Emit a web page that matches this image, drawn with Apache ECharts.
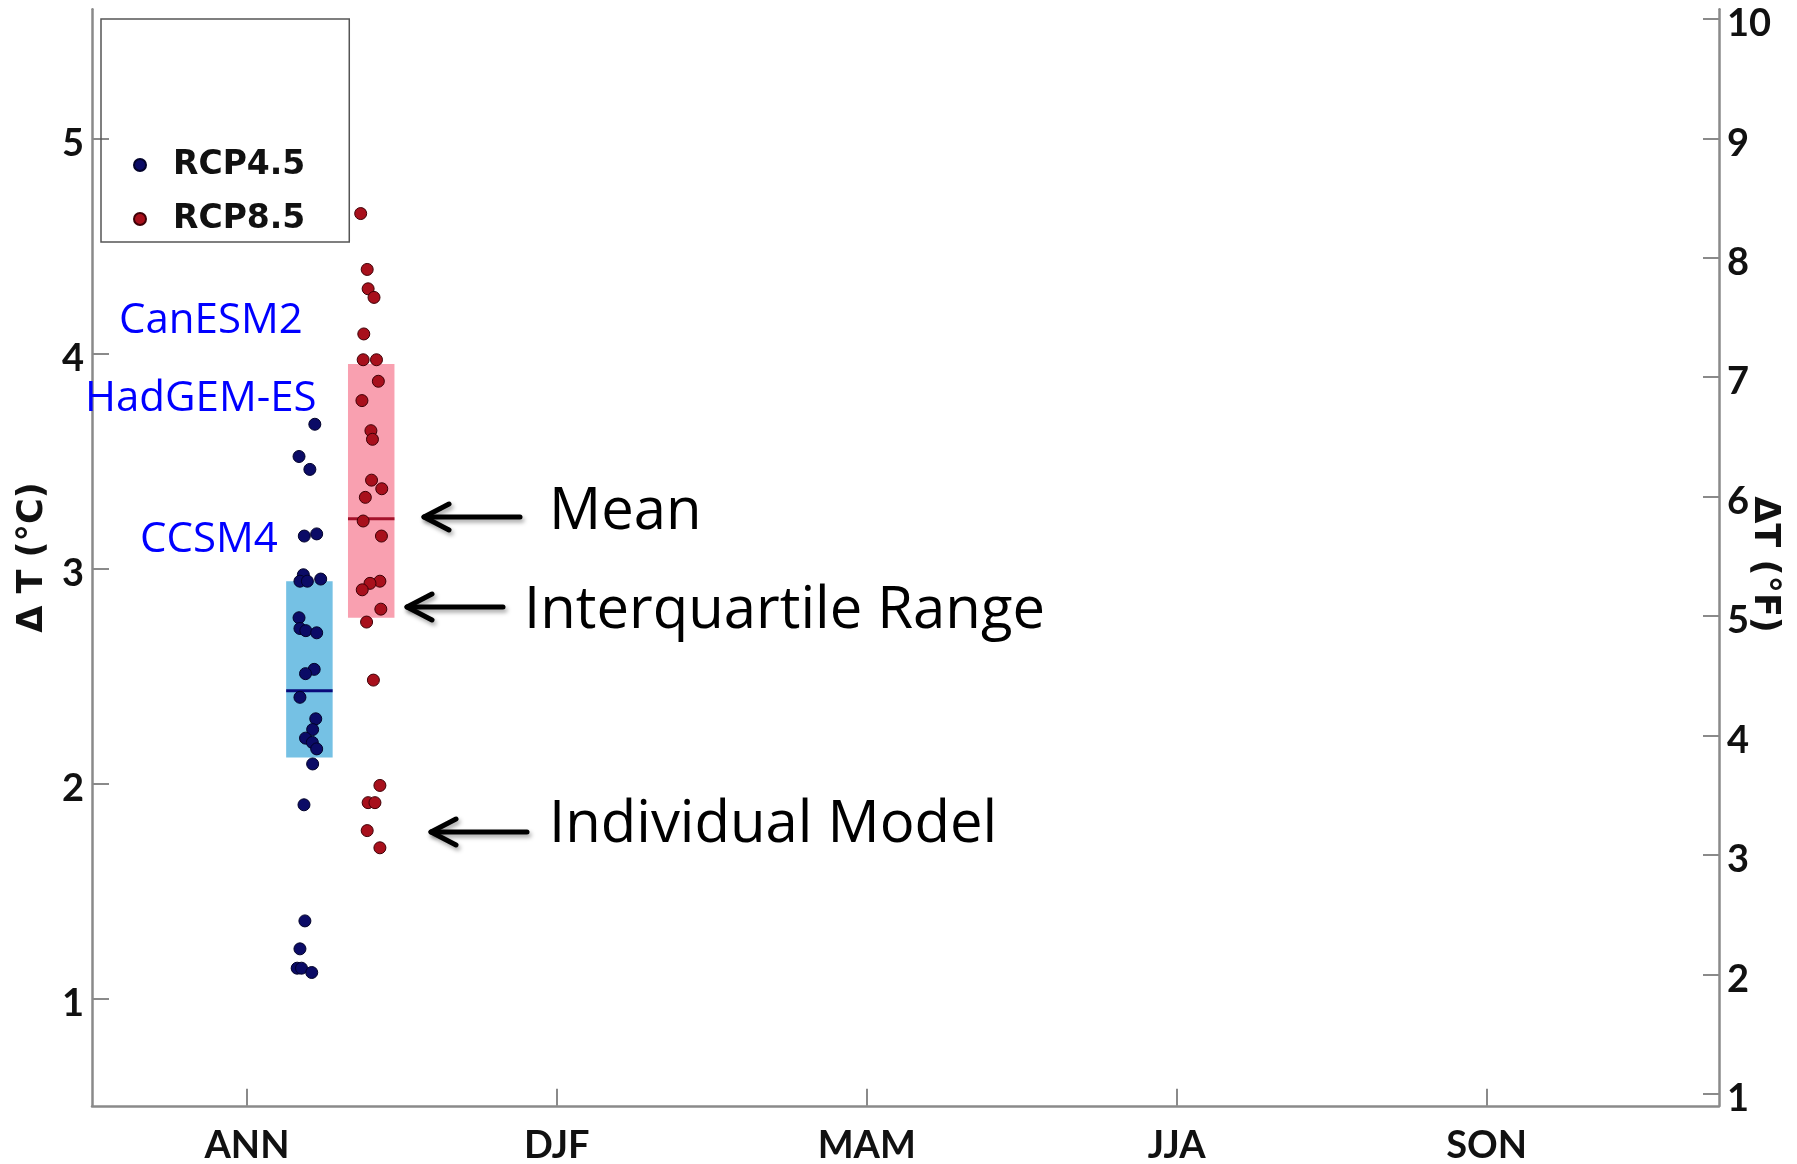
<!DOCTYPE html>
<html>
<head>
<meta charset="utf-8">
<script src="https://cdn.jsdelivr.net/npm/echarts@6/dist/echarts.min.js"></script>
<style>html,body{margin:0;padding:0;background:#fff}#c{width:1797px;height:1164px}</style>
</head>
<body>
<div id="c"></div>
<script>
// ---- data ----
const categories = ['ANN', 'DJF', 'MAM', 'JJA', 'SON'];
const scenarios = ['RCP4.5', 'RCP8.5'];
const leftTicks = [1, 2, 3, 4, 5];            // ΔT (°C)
const rightTicks = [1, 2, 3, 4, 5, 6, 7, 8, 9, 10]; // ΔT (°F)

// individual model ΔT (°C), ANN
const rcp45Values = [3.67, 3.52, 3.46, 3.16, 3.15, 2.97, 2.94, 2.94, 2.95, 2.77, 2.72, 2.71, 2.70, 2.53, 2.51, 2.40, 2.30, 2.25, 2.21, 2.19, 2.16, 2.09, 1.90, 1.36, 1.23, 1.14, 1.14, 1.12];
const rcp45Jitter = [0.219, 0.168, 0.203, 0.225, 0.185, 0.182, 0.171, 0.195, 0.238, 0.168, 0.171, 0.190, 0.225, 0.217, 0.189, 0.171, 0.222, 0.212, 0.189, 0.211, 0.225, 0.212, 0.184, 0.187, 0.171, 0.162, 0.176, 0.209];
const rcp85Values = [4.65, 4.39, 4.30, 4.26, 4.09, 3.97, 3.97, 3.87, 3.78, 3.64, 3.60, 3.41, 3.37, 3.33, 3.22, 3.15, 2.94, 2.93, 2.90, 2.81, 2.75, 2.48, 1.99, 1.91, 1.91, 1.78, 1.70];
const rcp85Jitter = [0.367, 0.388, 0.391, 0.410, 0.377, 0.375, 0.418, 0.424, 0.371, 0.400, 0.405, 0.402, 0.435, 0.382, 0.375, 0.434, 0.429, 0.397, 0.372, 0.432, 0.386, 0.408, 0.429, 0.391, 0.413, 0.388, 0.429];

// interquartile range and mean, ANN, per scenario
const q1 = [2.12, 2.77];
const q3 = [2.94, 3.95];
const means = [2.43, 3.23];

// ---- layout / style constants ----
const annPos = 1;                 // ANN on the x scale (categories at 1..5)
const boxOffsets = [0.2015, 0.401];
const boxWidth = 0.15;
const boxColors = ['#75c1e4', '#f9a0b0'];
const meanColors = ['#0a0a7a', '#a3122a'];
const dotColors = ['#0b0b66', '#a8101c'];
const dotBorders = ['#02022a', '#3f0006'];

const chart = echarts.init(document.getElementById('c'));

function boxSeries(k) {
  return {
    type: 'custom',
    name: scenarios[k] + ' IQR',
    xAxisIndex: 0, yAxisIndex: 0,
    z: 1,
    data: [[annPos + boxOffsets[k], q1[k], q3[k], means[k]]],
    renderItem: function (params, api) {
      const x = api.value(0);
      const a = api.coord([x - boxWidth / 2, api.value(2)]);
      const b = api.coord([x + boxWidth / 2, api.value(1)]);
      const m0 = api.coord([x - boxWidth / 2, api.value(3)]);
      const m1 = api.coord([x + boxWidth / 2, api.value(3)]);
      return {
        type: 'group',
        children: [
          { type: 'rect', shape: { x: a[0], y: a[1], width: b[0] - a[0], height: b[1] - a[1] }, style: { fill: boxColors[k] } },
          { type: 'line', shape: { x1: m0[0], y1: m0[1], x2: m1[0], y2: m1[1] }, style: { stroke: meanColors[k], lineWidth: 3 } }
        ]
      };
    }
  };
}

function dotSeries(k, vals, jit) {
  return {
    type: 'scatter',
    name: scenarios[k],
    xAxisIndex: 0, yAxisIndex: 0,
    z: 3,
    symbol: 'circle',
    symbolSize: 12,
    itemStyle: { color: dotColors[k], borderColor: dotBorders[k], borderWidth: 1, opacity: 1 },
    data: vals.map((v, i) => [annPos + jit[i], v])
  };
}

function arrow(tipX, endX, y) {
  const st = { stroke: '#000', lineWidth: 5, lineCap: 'round', lineJoin: 'round', fill: null,
               shadowBlur: 4, shadowColor: 'rgba(0,0,0,0.35)', shadowOffsetX: 2, shadowOffsetY: 3 };
  return {
    type: 'group',
    children: [
      { type: 'line', shape: { x1: tipX, y1: y, x2: endX, y2: y }, style: st },
      { type: 'polyline', shape: { points: [[tipX + 25, y - 13], [tipX, y], [tipX + 25, y + 13]] }, style: st }
    ]
  };
}

function label(text, x, y, size, color, family) {
  return {
    type: 'text', x: x, y: y, z: 10,
    style: { text: text, fontSize: size, fontFamily: family, fill: color, align: 'left', verticalAlign: 'middle' }
  };
}

const tickFont = { fontFamily: 'Lato', fontWeight: 'bold', fontSize: 38, color: '#111' };
const axisLineStyle = { color: '#8a8a8a', width: 2.5 };
const tickLineStyle = { color: '#8a8a8a', width: 2 };

const option = {
  animation: false,
  backgroundColor: '#ffffff',
  grid: { left: 92, right: 78, top: 9.3, bottom: 58.2, containLabel: false, outerBoundsMode: 'none' },
  legend: {
    data: scenarios,
    orient: 'vertical',
    left: 101, top: 19,
    padding: [126, 44, 3, 32],
    itemGap: 14,
    itemWidth: 12, itemHeight: 12,
    icon: 'circle',
    borderColor: '#555',
    borderWidth: 1.5,
    textStyle: { fontFamily: 'DejaVu Sans', fontWeight: 'bold', fontSize: 33, color: '#111', width: 130, lineHeight: 40, padding: [0, 0, 0, 22] }
  },
  xAxis: {
    type: 'value',
    min: 0.5, max: 5.75,
    splitLine: { show: false },
    axisLine: { show: true, lineStyle: axisLineStyle },
    axisTick: { show: true, inside: true, length: 17, lineStyle: tickLineStyle, customValues: categories.map((c, i) => i + 1) },
    axisLabel: {
      ...tickFont, margin: 21,
      customValues: categories.map((c, i) => i + 1),
      formatter: v => categories[Math.round(v) - 1] || ''
    }
  },
  yAxis: [
    {
      type: 'value', position: 'left',
      min: 0.5, max: 5.6,
      name: 'Δ T (°C)', nameLocation: 'middle', nameGap: 42, nameRotate: 90, nameMoveOverlap: false,
      nameTextStyle: { fontFamily: 'DejaVu Sans', fontWeight: 'bold', fontSize: 35, color: '#111' },
      splitLine: { show: false },
      axisLine: { show: true, lineStyle: axisLineStyle },
      axisTick: { show: true, inside: true, length: 17, lineStyle: tickLineStyle, customValues: leftTicks },
      axisLabel: { ...tickFont, margin: 8, verticalAlign: 'top', lineHeight: 10, customValues: leftTicks }
    },
    {
      type: 'value', position: 'right',
      min: 0.9, max: 10.08,
      name: 'ΔT (°F)', nameLocation: 'middle', nameGap: 28, nameRotate: -90, nameMoveOverlap: false,
      nameTextStyle: { fontFamily: 'DejaVu Sans', fontWeight: 'bold', fontSize: 35, color: '#111', padding: [0, 0, 0, 14] },
      splitLine: { show: false },
      axisLine: { show: true, lineStyle: axisLineStyle },
      axisTick: { show: true, inside: true, length: 16, lineStyle: tickLineStyle, customValues: rightTicks },
      axisLabel: { ...tickFont, margin: 8, verticalAlign: 'top', lineHeight: 10, customValues: rightTicks }
    }
  ],
  series: [
    boxSeries(0),
    boxSeries(1),
    dotSeries(0, rcp45Values, rcp45Jitter),
    dotSeries(1, rcp85Values, rcp85Jitter)
  ],
  graphic: [
    label('CanESM2', 119, 321, 42, '#0000ff', 'Open Sans'),
    label('HadGEM-ES', 85, 399, 42, '#0000ff', 'Open Sans'),
    label('CCSM4', 140, 540, 42, '#0000ff', 'Open Sans'),
    label('Mean', 549, 512, 58, '#000', 'Open Sans'),
    label('Interquartile Range', 524, 611, 58, '#000', 'Open Sans'),
    label('Individual Model', 549, 825, 58, '#000', 'Open Sans'),
    arrow(424, 520, 517),
    arrow(407, 503, 607),
    arrow(431, 527, 832)
  ]
};
chart.setOption(option);
</script>
</body>
</html>
